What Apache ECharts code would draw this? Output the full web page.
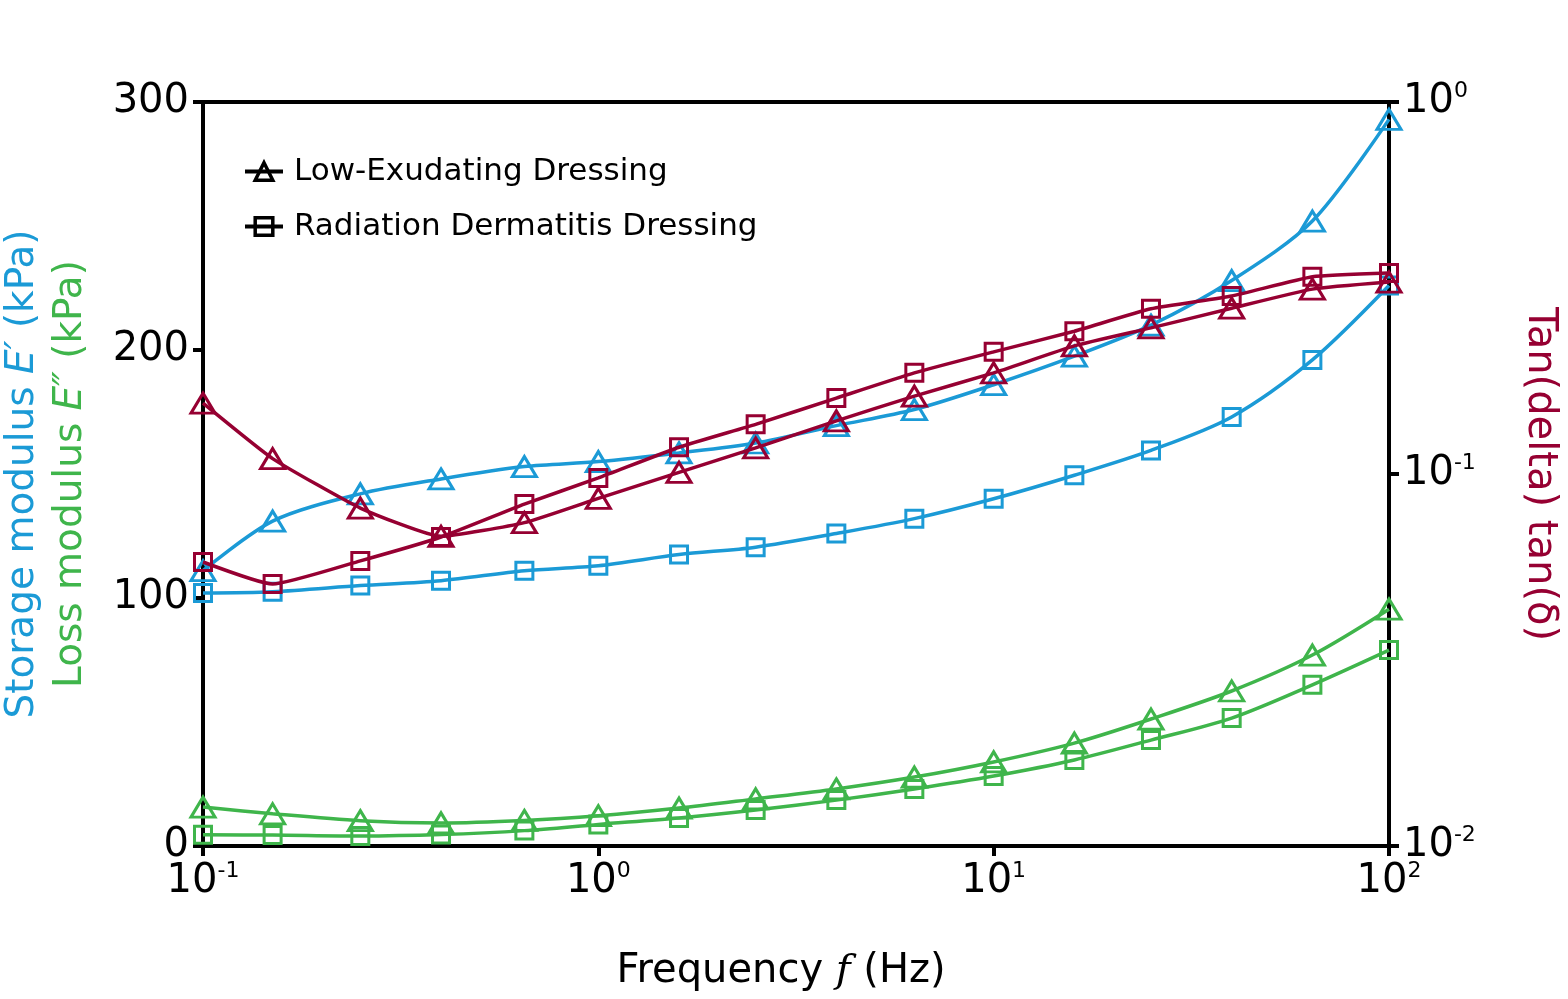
<!DOCTYPE html>
<html>
<head>
<meta charset="utf-8">
<script src="https://cdn.jsdelivr.net/npm/echarts@6/dist/echarts.min.js"></script>
<style>
html,body{margin:0;padding:0;background:#fff;}
#chart{width:1568px;height:999px;}
</style>
</head>
<body>
<div id="chart"></div>
<script>
// Frequency (Hz)
const freq = [0.1, 0.15, 0.25, 0.4, 0.65, 1, 1.6, 2.5, 4, 6.3, 10, 16, 25, 40, 64, 100];
// Storage modulus E' (kPa)
const storageLow = [111, 131, 142, 148, 153, 155, 158.5, 162.5, 169.5, 176, 186, 197.5, 210, 228, 252, 293];
const storageRad = [102, 102.5, 105, 107, 111, 113, 117.5, 120.5, 126, 132, 140, 149.5, 159.5, 173, 196, 226];
// Loss modulus E'' (kPa)
const lossLow = [15.7, 13, 10.2, 9.3, 10.3, 12.2, 15.3, 19, 23, 27.8, 33.9, 41.5, 51.2, 62.5, 77, 95.5];
const lossRad = [4.5, 4.4, 4, 4.6, 6.2, 8.7, 11.3, 14.5, 18.5, 23, 28.2, 34.7, 42.7, 51.6, 65, 79];
// tan(delta)
const tanLow = [0.155, 0.110, 0.081, 0.068, 0.074, 0.086, 0.101, 0.1175, 0.139, 0.162, 0.187, 0.221, 0.247, 0.279, 0.314, 0.328];
const tanRad = [0.058, 0.0506, 0.0584, 0.0677, 0.083, 0.0976, 0.118, 0.136, 0.160, 0.187, 0.213, 0.242, 0.278, 0.301, 0.339, 0.347];
// Axis tick labels
const leftTicks = [0, 100, 200, 300];
const legendNames = ['Low-Exudating Dressing', 'Radiation Dermatitis Dressing'];

const BLUE = '#1b9ad6', GREEN = '#3fb54b', RED = '#960032';
const FONT = 'DejaVu Sans';
const pairs = ys => freq.map((f, i) => [f, ys[i]]);
const expLabel = v => '{b|10}{s|' + Math.round(Math.log10(v)) + '}';
const tickRich = {
  b: {fontSize: 40, fontFamily: FONT, color: '#000'},
  s: {fontSize: 22, fontFamily: FONT, color: '#000', padding: [0, 0, 22, 0]}
};

function mk(name, data, color, symbol, yIdx, smooth, z, lw) {
  return {
    name: name, type: 'line', data: data, yAxisIndex: yIdx,
    smooth: smooth, symbol: symbol,
    symbolSize: symbol === 'triangle' ? [24, 20] : 17,
    lineStyle: {color: color, width: lw || 3.5},
    itemStyle: {color: 'rgba(0,0,0,0)', borderColor: color, borderWidth: lw || 3},
    z: z, animation: false
  };
}

const chart = echarts.init(document.getElementById('chart'));
chart.setOption({
  backgroundColor: '#fff',
  animation: false,
  grid: {left: 203, right: 179, top: 102, bottom: 153, containLabel: false, outerBoundsMode: 'none',
         show: true, borderColor: '#000', borderWidth: 4, backgroundColor: 'transparent'},
  legend: {
    left: 238, top: 151, orient: 'vertical', itemGap: 24,
    itemWidth: 38, itemHeight: 22,
    data: legendNames,
    lineStyle: {width: 4, color: '#000'},
    itemStyle: {borderWidth: 3.5, borderColor: '#000'},
    textStyle: {fontSize: 31, fontFamily: FONT, color: '#000', padding: [0, 0, 0, 6]}
  },
  xAxis: {
    type: 'log', logBase: 10, min: 0.1, max: 100,
    name: '{n|Frequency }{i|f}{n| (Hz)}', nameLocation: 'middle', nameGap: 106,
    nameTextStyle: {padding: [0, 30, 0, 0], rich: {
      n: {fontSize: 40, fontFamily: FONT, color: '#000'},
      i: {fontSize: 40, fontFamily: 'DejaVu Serif', fontStyle: 'italic', color: '#000'}
    }},
    axisLine: {show: true, lineStyle: {color: '#000', width: 4}},
    axisTick: {show: true, length: 10, lineStyle: {color: '#000', width: 4}},
    minorTick: {show: false},
    splitLine: {show: false},
    axisLabel: {margin: 14, formatter: expLabel, rich: tickRich}
  },
  yAxis: [{
    type: 'value', min: leftTicks[0], max: leftTicks[leftTicks.length - 1], interval: 100,
    name: '{a|Storage modulus }{ai|E′}{a| (kPa)}\n{b|Loss modulus }{bi|E″}{b| (kPa)}',
    nameLocation: 'middle', nameGap: 108, nameRotate: 90,
    nameTextStyle: {lineHeight: 48, rich: {
      a: {fontSize: 39, fontFamily: FONT, color: BLUE, lineHeight: 48},
      ai: {fontSize: 39, fontFamily: FONT, fontStyle: 'italic', color: BLUE, lineHeight: 48},
      b: {fontSize: 39, fontFamily: FONT, color: GREEN, lineHeight: 48},
      bi: {fontSize: 39, fontFamily: FONT, fontStyle: 'italic', color: GREEN, lineHeight: 48}
    }},
    axisLine: {show: true, lineStyle: {color: '#000', width: 4}},
    axisTick: {show: true, length: 10, lineStyle: {color: '#000', width: 4}},
    splitLine: {show: false},
    axisLabel: {margin: 14, fontSize: 40, fontFamily: FONT, color: '#000'}
  }, {
    type: 'log', logBase: 10, min: 0.01, max: 1, position: 'right',
    name: 'Tan(delta) tan(δ)', nameLocation: 'middle', nameGap: 130, nameRotate: -90,
    nameTextStyle: {fontSize: 40, fontFamily: FONT, color: RED},
    axisLine: {show: true, lineStyle: {color: '#000', width: 4}},
    axisTick: {show: true, length: 10, lineStyle: {color: '#000', width: 4}},
    minorTick: {show: false},
    splitLine: {show: false},
    axisLabel: {margin: 14, formatter: expLabel, rich: tickRich}
  }],
  series: [
    mk('E1', pairs(storageLow), BLUE, 'triangle', 0, 0.3, 2),
    mk('E2', pairs(storageRad), BLUE, 'rect', 0, 0.3, 2),
    mk('L1', pairs(lossLow), GREEN, 'triangle', 0, 0.3, 2),
    mk('L2', pairs(lossRad), GREEN, 'rect', 0, 0.3, 2),
    mk('T1', pairs(tanLow), RED, 'triangle', 1, 0.15, 3),
    mk('T2', pairs(tanRad), RED, 'rect', 1, 0.15, 3),
    mk(legendNames[0], [], '#000', 'triangle', 0, false, 1, 4),
    mk(legendNames[1], [], '#000', 'rect', 0, false, 1, 4)
  ]
});
</script>
</body>
</html>
